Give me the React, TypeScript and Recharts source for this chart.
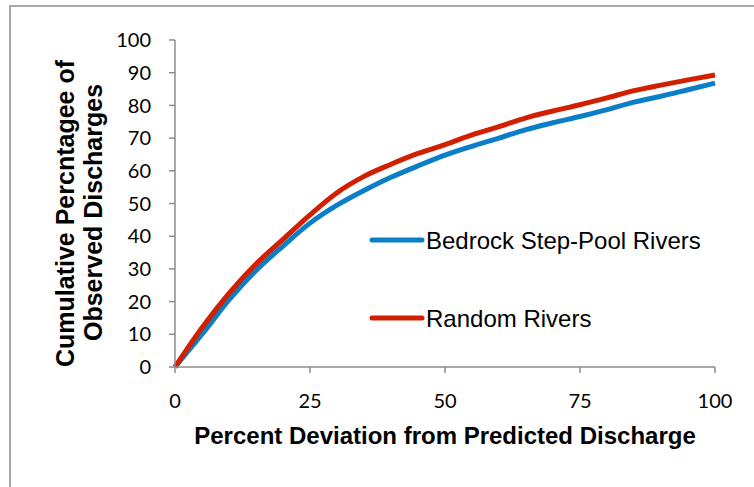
import { LineChart, Line, XAxis, YAxis, Legend } from 'recharts';

// values
const deviation = [0, 5, 10, 15, 20, 25, 30, 35, 40, 45, 50, 55, 60, 65, 70, 75, 80, 85, 90, 95, 100];
const bedrock = [0, 10, 20.5, 29.5, 37, 44, 49.5, 54, 58, 61.5, 64.8, 67.5, 70, 72.6, 74.7, 76.6, 78.7, 81, 82.8, 84.8, 86.8];
const random = [0, 12, 22.5, 31.5, 39, 46.5, 53.3, 58.3, 62, 65.3, 68, 71, 73.5, 76.2, 78.3, 80.2, 82.3, 84.5, 86.2, 87.8, 89.3];
const xTicks = [0, 25, 50, 75, 100];
const yTicks = [0, 10, 20, 30, 40, 50, 60, 70, 80, 90, 100];

const data = deviation.map((d, i) => ({ d, bedrock: bedrock[i], random: random[i] }));

const axisColor = '#8c8c8c';
const tickStyle = { fill: '#000', fontFamily: 'Lato', fontSize: 20 };
const titleFont = '"Liberation Sans", Arial, sans-serif';

const YTitle = (props: any) => {
  const vb = props.viewBox || {};
  const cy = vb.y + vb.height / 2 + 10;
  return (
    <g fontFamily={titleFont} fontWeight="bold" fontSize={25} fill="#000" textAnchor="middle">
      <text transform={`translate(74, ${cy}) rotate(-90)`}>Cumulative Percntagee of</text>
      <text transform={`translate(102, ${cy - 1}) rotate(-90)`}>Observed Discharges</text>
    </g>
  );
};

const legendItems = [
  { name: 'Bedrock Step-Pool Rivers', color: '#0a7fc8' },
  { name: 'Random Rivers', color: '#d11f00' },
];

const LegendBox = () => (
  <div style={{ fontFamily: titleFont, fontSize: 24, color: '#000' }}>
    {legendItems.map((it) => (
      <div key={it.name} style={{ display: 'flex', alignItems: 'center', height: 78 }}>
        <svg width={56} height={10} style={{ marginTop: -3 }}>
          <line x1={3} y1={5} x2={53} y2={5} stroke={it.color} strokeWidth={5} strokeLinecap="round" />
        </svg>
        <span style={{ marginLeft: 1 }}>{it.name}</span>
      </div>
    ))}
  </div>
);

export default function App() {
  return (
    <div style={{ position: 'fixed', left: 0, top: 0, width: 754, height: 487, overflow: 'hidden', background: '#fff' }}>
      <div
        style={{
          position: 'absolute',
          left: 9,
          top: 5,
          width: 800,
          height: 600,
          border: '2px solid #a8a8a8',
        }}
      />
      <div style={{ position: 'absolute', left: 0, top: 0 }}>
        <LineChart width={754} height={487} data={data} margin={{ top: 40, right: 39, left: 95, bottom: 60 }}>
          <XAxis
            dataKey="d"
            type="number"
            domain={[0, 100]}
            ticks={xTicks}
            height={60}
            stroke={axisColor}
            strokeWidth={1.5}
            tickSize={6}
            tickMargin={21}
            tick={tickStyle}
            label={{
              value: 'Percent Deviation from Predicted Discharge',
              position: 'insideBottom',
              offset: 0,
              dy: 17,
              style: { fontFamily: titleFont, fontWeight: 'bold', fontSize: 24, fill: '#000' },
            }}
          />
          <YAxis
            type="number"
            domain={[0, 100]}
            ticks={yTicks}
            width={80}
            stroke={axisColor}
            strokeWidth={1.5}
            tickSize={6}
            tickMargin={18}
            tick={tickStyle}
            label={<YTitle />}
          />
          <Legend
            layout="horizontal"
            verticalAlign="middle"
            align="center"
            content={<LegendBox />}
            wrapperStyle={{ left: 369, top: 202, width: 380 }}
          />
          <Line dataKey="bedrock" type="monotone" stroke="#0a7fc8" strokeWidth={5} dot={false} isAnimationActive={false} />
          <Line dataKey="random" type="monotone" stroke="#d11f00" strokeWidth={5} dot={false} isAnimationActive={false} />
        </LineChart>
      </div>
    </div>
  );
}
